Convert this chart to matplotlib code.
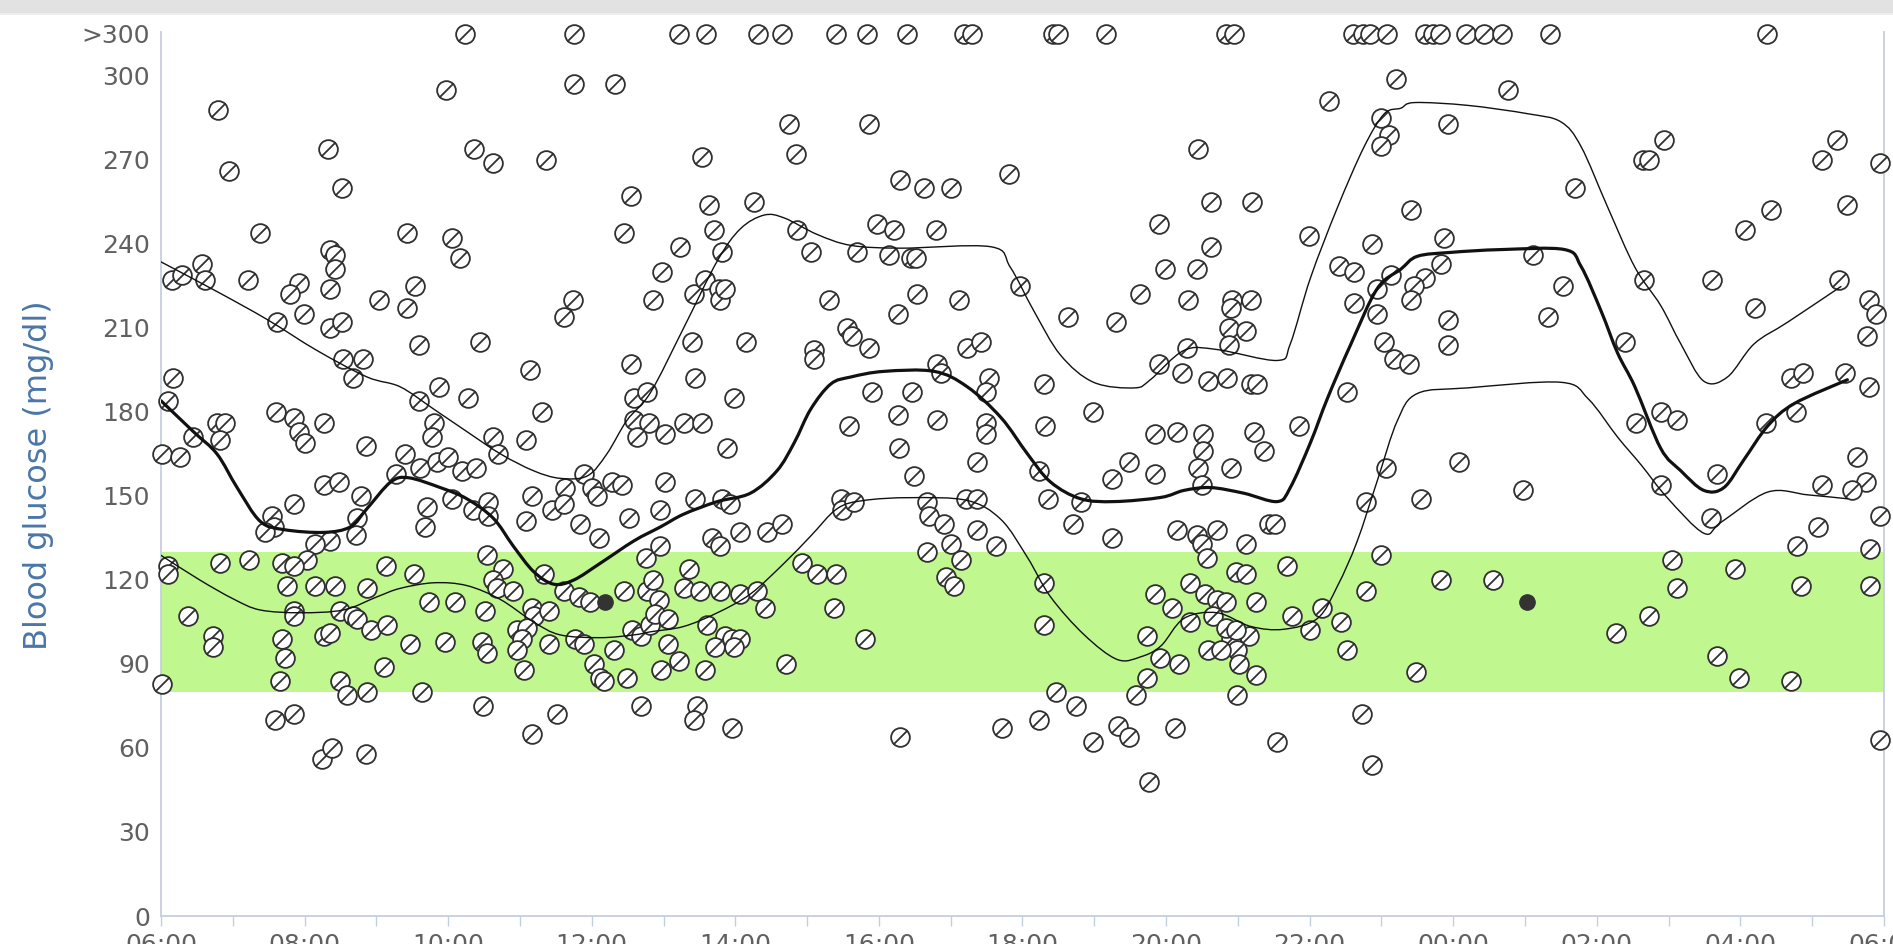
import numpy as np
import matplotlib
matplotlib.use("Agg")
import matplotlib.pyplot as plt
from matplotlib.path import Path
from matplotlib.patches import PathPatch, Rectangle

# ---- data: time is hours after 06:00, glucose in mg/dl ----
reading_hours = [
    0.80, 0.95, 1.38, 2.33, 2.52,
    0.15, 0.29, 0.57, 0.61, 1.21, 1.92, 1.79, 1.99,
    2.36, 2.43, 2.43, 2.36, 1.62, 2.36, 2.52, 2.54, 2.82, 2.68, 3.03,
    0.17, 0.10, 0.45, 0.78, 0.89, 0.82, 0.01, 0.27,
    1.60, 1.85, 1.92, 2.00, 2.27, 2.86, 3.27, 2.27, 2.48, 1.85, 2.78,
    1.54, 1.57, 1.45, 2.73, 2.71, 2.36, 2.15, 2.03,
    0.10, 0.10, 0.82, 1.22, 1.68, 1.85, 1.75, 2.15, 2.43, 2.87, 3.13,
    1.85, 1.85, 2.50, 2.68, 2.73, 2.92, 3.15, 0.38, 0.73, 0.73, 2.27, 2.36,
    1.68, 1.73, 1.66, 3.10, 0.01, 2.50, 2.59, 2.87, 1.59, 1.85, 2.24, 2.38, 2.85,
    3.97, 5.75, 6.33, 4.36, 4.63, 5.36, 6.54, 6.45, 3.42,
    4.05, 4.17, 3.54, 3.42, 5.74, 5.61, 3.59, 4.45, 5.14, 6.54,
    3.87, 3.59, 4.28, 5.31, 6.59, 6.77, 6.59, 6.80, 6.63,
    3.80, 3.77, 4.63, 4.70, 5.09, 3.40, 3.61, 3.84, 4.00, 4.19, 4.39,
    5.89, 6.00, 6.08, 6.28, 6.42, 5.63, 5.45, 5.61,
    3.70, 3.68, 4.05, 4.35, 4.56, 4.56, 5.09, 5.17, 5.84, 6.10, 6.52,
    4.54, 6.75, 4.77, 4.63, 4.68, 5.33, 3.52, 4.91,
    5.61, 5.82, 5.98, 6.45, 6.77, 3.73, 4.10, 4.52, 5.17, 5.19, 5.40,
    4.96, 5.10, 5.03, 4.96, 5.40, 5.77, 5.89, 6.56, 6.69,
    3.47, 3.96, 4.47, 4.54, 6.31, 5.05, 6.03, 6.12, 6.17, 6.49,
    3.63, 4.49, 5.52, 5.17, 6.68,
    8.75, 8.84, 9.86, 7.54, 10.30, 7.63, 7.70, 7.81, 8.26,
    8.86, 9.05, 9.70, 9.98, 10.21, 10.14, 7.23, 6.98, 6.86,
    7.42, 7.58, 7.77, 7.79, 7.85, 9.30, 9.56, 9.63, 9.86, 10.26,
    7.40, 8.15, 9.09, 9.10, 7.44, 7.98, 9.91,
    7.02, 7.28, 7.54, 9.58, 10.26, 10.28, 7.89,
    7.02, 6.95, 7.44, 7.81, 7.93, 9.47, 9.49, 9.65,
    6.95, 7.68, 7.79, 8.06, 8.44, 8.65, 7.35, 8.93, 9.14, 9.40,
    6.86, 6.93, 6.81, 6.88, 7.06, 7.06, 6.96, 7.21,
    7.28, 7.51, 7.79, 8.07, 8.30, 8.42, 7.61, 7.86, 7.95, 8.07, 7.72, 7.98,
    7.58, 8.70, 9.37, 9.81, 7.47, 7.42, 7.95, 10.30,
    10.63, 11.00, 11.81, 10.79, 10.44, 10.51, 10.53, 11.11, 11.97, 12.63, 13.30, 13.63,
    11.23, 11.42, 10.81, 10.86, 11.53, 11.49, 10.46, 10.81, 11.49, 11.49, 12.30, 12.32, 12.98,
    11.37, 10.49, 12.23, 13.49, 13.25, 12.35, 12.81, 12.70, 13.25,
    10.67, 10.70, 10.90, 11.00, 11.14, 11.21, 11.37, 11.37, 11.63, 10.67,
    10.93, 11.04, 12.30, 12.30, 13.74, 13.74, 13.58,
    12.46, 12.74, 12.23, 11.72, 12.98, 13.33, 13.49, 13.76,
    17.20, 16.27, 17.00, 17.11, 17.00, 14.45, 14.62, 15.20, 13.90, 14.62, 15.99,
    13.99, 14.43, 16.87, 16.41, 16.62, 14.31, 14.92, 15.18, 14.90, 14.87, 15.11, 14.87,
    16.62, 16.94, 17.13, 16.94, 17.04, 17.18, 14.29, 13.90, 14.22,
    14.59, 14.85, 15.18, 15.27, 16.52, 13.85, 14.15, 14.52, 14.52, 14.45, 14.50,
    15.22, 15.36, 14.90, 15.85, 13.85, 17.06, 16.78,
    15.43, 15.52, 14.15, 14.43, 14.50, 14.57, 14.71, 15.11, 14.97, 15.11, 15.69, 16.99,
    13.85, 14.34, 14.08, 14.54, 14.71, 14.83, 14.66, 14.34, 15.25,
    15.15, 14.90, 14.99, 15.01, 15.25, 14.83, 14.97, 14.59, 14.76, 13.92, 14.18,
    15.76, 16.01, 16.17, 16.43, 16.52, 16.78,
    14.99, 14.13, 15.55, 16.73, 16.87,
    18.76, 17.92, 19.69, 20.64, 20.72, 17.41, 17.87, 19.11,
    17.83, 17.60, 17.46, 17.41, 19.53, 19.32, 17.92, 17.92, 17.39, 20.39, 20.55,
    18.08, 17.55, 18.97, 17.83, 18.55, 20.27, 20.73, 17.48,
    20.94, 20.66, 21.61, 23.13, 23.34, 23.94, 22.42, 22.07, 22.21, 23.49, 23.37,
    23.79, 23.89, 23.77, 23.79, 22.70, 22.87, 23.45, 20.89, 21.12, 22.35, 22.77,
    21.67, 20.89, 23.63, 23.75, 23.56, 23.14, 23.95, 21.59, 23.08, 22.79, 23.80,
    21.05, 21.92, 21.12, 22.85, 23.80, 21.67, 21.98, 22.70, 23.94,
]
reading_values = [
    288, 266, 244, 274, 260,
    227, 229, 233, 227, 227, 226, 222, 215,
    238, 236, 231, 224, 212, 210, 212, 199, 199, 192, 220,
    192, 184, 171, 176, 176, 170, 165, 164,
    180, 178, 173, 169, 176, 168, 158, 154, 155, 147, 150,
    143, 139, 137, 142, 136, 134, 133, 127,
    125, 122, 126, 127, 126, 125, 118, 118, 118, 117, 125,
    109, 107, 109, 107, 106, 102, 104, 107, 100, 96, 100, 101,
    99, 92, 84, 89, 83, 84, 79, 80, 70, 72, 56, 60, 58,
    295, 297, 297, 274, 269, 270, 257, 244, 244,
    242, 235, 225, 217, 220, 214, 204, 205, 195, 197,
    189, 184, 185, 180, 185, 187, 177, 176, 171,
    176, 171, 171, 165, 170, 165, 160, 162, 164, 159, 160,
    158, 153, 150, 155, 154, 153, 145, 147,
    146, 139, 149, 145, 148, 143, 141, 150, 140, 135, 142,
    129, 128, 124, 120, 117, 122, 122, 116,
    116, 114, 112, 116, 116, 112, 112, 109, 110, 107, 109,
    102, 103, 99, 95, 97, 99, 97, 102, 100,
    97, 98, 98, 94, 95, 88, 90, 85, 84, 85,
    80, 75, 72, 65, 75,
    283, 272, 283, 271, 263, 254, 245, 237, 255,
    245, 237, 237, 247, 245, 236, 239, 230, 220,
    222, 227, 224, 220, 224, 220, 210, 207, 203, 215,
    205, 205, 202, 199, 192, 185, 187,
    172, 176, 176, 175, 179, 167, 167,
    155, 145, 149, 149, 147, 149, 145, 148,
    132, 135, 132, 137, 137, 140, 124, 126, 122, 122,
    120, 113, 104, 108, 106, 97, 88, 91,
    117, 116, 116, 115, 116, 110, 104, 100, 99, 99, 96, 96,
    88, 90, 110, 99, 75, 70, 67, 64,
    260, 260, 265, 245, 235, 235, 222, 220, 225, 214, 212, 222,
    203, 205, 197, 194, 192, 187, 187, 177, 176, 172, 190, 175, 180,
    162, 157, 159, 162, 156, 149, 148, 140, 135,
    148, 143, 140, 133, 127, 149, 149, 138, 132, 130,
    121, 118, 119, 104, 100, 85, 79,
    80, 75, 70, 67, 62, 68, 64, 48,
    299, 291, 285, 279, 275, 274, 255, 255, 247, 239, 243,
    231, 231, 240, 232, 230, 220, 220, 220, 217, 210, 209, 204,
    219, 224, 229, 215, 205, 199, 203, 197, 194,
    191, 192, 190, 190, 187, 172, 173, 172, 166, 160, 154,
    173, 166, 160, 175, 158, 160, 148,
    140, 140, 138, 136, 133, 128, 138, 133, 123, 122, 125, 129,
    115, 119, 110, 115, 113, 112, 107, 105, 112,
    100, 99, 95, 90, 86, 103, 102, 95, 95, 92, 90,
    107, 102, 110, 105, 95, 116,
    79, 67, 62, 72, 54,
    295, 283, 260, 270, 270, 252, 242, 236,
    233, 228, 225, 220, 225, 214, 213, 204, 197, 205, 176,
    162, 149, 152, 120, 120, 101, 107, 87,
    277, 227, 227, 270, 277, 269, 252, 245, 217, 254, 227,
    220, 215, 207, 189, 192, 194, 194, 180, 177, 176, 180,
    158, 154, 164, 155, 152, 154, 143, 142, 139, 132, 131,
    127, 124, 117, 118, 118, 93, 85, 84, 63,
]

# readings above the meter range, drawn on the ">300" row
over_300_hours = [4.24, 5.75, 7.21, 7.59, 8.32, 8.65, 9.40, 9.84, 10.39,
                  11.18, 11.30, 12.43, 12.49, 13.16, 14.84, 14.94, 16.60,
                  16.74, 16.84, 17.08, 17.60, 17.72, 17.82, 18.18, 18.43,
                  18.68, 19.35, 22.37]

# meal markers
meal_hours = [6.19, 19.03]
meal_values = [112, 112]

median_hours = [0.0, 0.45, 0.78, 1.06, 1.38, 1.71, 2.27, 2.64, 2.87, 3.20,
                3.45, 3.89, 4.26, 4.63, 4.91, 5.19, 5.47, 5.75, 6.12, 6.59,
                6.96, 7.28, 7.75, 8.21, 8.58, 8.82, 9.05, 9.33, 9.61, 10.07,
                10.77, 11.23, 11.70, 12.07, 12.39, 12.81, 13.28, 13.93, 14.25,
                14.62, 15.08, 15.55, 15.73, 16.01, 16.25, 16.57, 16.94, 17.27,
                17.50, 17.97, 18.67, 19.55, 19.78, 20.06, 20.29, 20.53, 20.89,
                21.17, 21.49, 21.77, 22.05, 22.38, 22.75, 23.49]
median_values = [184, 173, 165, 153, 141, 138, 137, 139, 145.5, 155,
                 156.5, 153, 149, 142, 132, 123, 118.5, 120, 126, 134,
                 139, 143.5, 148, 151, 159, 169, 181, 190, 192.5, 194.5,
                 194.5, 189, 178, 165, 155, 149, 148, 149.5, 152,
                 153, 151, 148, 153, 169, 185, 204, 224, 231,
                 235.6, 237, 238, 238, 232, 216, 201, 189, 167,
                 159, 152, 153, 163, 175, 183, 191.5]

upper_hours = [0.0, 0.78, 1.48, 2.17, 2.87, 3.33, 3.80, 4.26, 4.73, 5.19,
               5.56, 5.94, 6.21, 6.49, 6.82, 7.28, 7.75, 8.07, 8.40, 8.68,
               9.14, 9.61, 10.30, 11.56, 11.83, 12.16, 12.53, 12.99, 13.56,
               13.78, 14.25, 14.71, 15.55, 15.73, 16.01, 16.39, 16.76, 17.04,
               17.27, 17.46, 18.20, 19.04, 19.50, 19.78, 20.15, 20.53, 20.89,
               21.17, 21.49, 21.82, 22.19, 22.66, 23.40]
upper_values = [233.6, 223, 213, 202, 192.5, 189, 181, 173, 165, 159,
                156.3, 157.2, 165, 177, 187, 210, 234, 245.4, 250.3, 249.3,
                243.4, 239.5, 238.5, 239, 231.7, 216, 200.3, 190.6, 188.6,
                191.5, 202, 202.3, 198.4, 204.3, 227.8, 253.2, 274.8, 286.5,
                288.5, 290.5, 289.5, 286.5, 283.6, 274.8, 253.2, 231.7, 218,
                204.3, 191, 192.5, 204.3, 212.1, 224.8]

lower_hours = [0.0, 0.54, 1.01, 1.38, 1.94, 2.54, 3.01, 3.33, 3.80, 4.26,
               4.73, 5.19, 5.56, 6.12, 6.59, 6.82, 7.28, 7.75, 8.21, 8.68,
               9.05, 9.42, 9.79, 10.44, 11.23, 11.70, 12.07, 12.39, 12.86,
               13.32, 13.65, 13.93, 14.25, 14.71, 15.18, 15.64, 16.11, 16.39,
               16.66, 16.94, 17.22, 17.50, 18.20, 19.50, 19.88, 20.29, 20.62,
               20.98, 21.49, 21.73, 22.38, 22.94, 23.49]
lower_values = [128.8, 120, 113.2, 109.3, 108.3, 109.3, 114, 117, 119, 118,
                113, 105, 100.4, 99.4, 100.4, 101.5, 103.4, 108.3, 115, 126,
                135.7, 145.5, 148.4, 149.4, 148.4, 141.6, 128, 114, 100.4,
                91.6, 92.6, 96.5, 106.3, 108.3, 103.4, 102.4, 106.3, 118,
                133.7, 155.3, 176.8, 186.6, 188.6, 190.6, 184.7, 171, 161,
                149.4, 136.7, 140.6, 151.4, 150.4, 149]

x_tick_labels = ["06:00", "08:00", "10:00", "12:00", "14:00", "16:00", "18:00",
                 "20:00", "22:00", "00:00", "02:00", "04:00", "06:00"]
y_tick_values = [0, 30, 60, 90, 120, 150, 180, 210, 240, 270, 300]
over_300_label = ">300"
over_300_row = 315
target_low, target_high = 80, 130

# ---- figure ----
W, H, DPI = 1893, 944, 100
fig = plt.figure(figsize=(W / DPI, H / DPI), dpi=DPI)
left, right, bottom, top = 161, 1884, 916, 32
ax = fig.add_axes([left / W, (H - bottom) / H, (right - left) / W, (bottom - top) / H])
ax.set_xlim(0, 24)
ax.set_ylim(0, 315.7)

spine_col = "#c5cfdc"
label_col = "#606060"

# target range band
ax.axhspan(target_low, target_high, color="#c0f78f", lw=0, zorder=0)


def smooth_path(xs, ys):
    """Catmull-Rom spline through the points, rendered as cubic Bezier segments."""
    p = np.column_stack([xs, ys]).astype(float)
    ext = np.vstack([p[0], p, p[-1]])
    verts = [p[0]]
    codes = [Path.MOVETO]
    for i in range(1, len(ext) - 2):
        p0, p1, p2, p3 = ext[i - 1], ext[i], ext[i + 1], ext[i + 2]
        c1 = p1 + (p2 - p0) / 6.0
        c2 = p2 - (p3 - p1) / 6.0
        verts += [c1, c2, p2]
        codes += [Path.CURVE4] * 3
    return Path(np.array(verts), codes)


# slashed-circle marker
circ = Path.unit_circle()
slash = np.array([[-0.72, -0.72], [0.72, 0.72]])
slashed = Path(np.vstack([circ.vertices, slash]),
               list(circ.codes) + [Path.MOVETO, Path.LINETO])

ax.scatter(reading_hours, reading_values, s=13.5 ** 2, marker=slashed,
           facecolor="white", edgecolor="#303030", linewidths=1.3,
           zorder=3, clip_on=False)
ax.scatter(over_300_hours, [over_300_row] * len(over_300_hours), s=13.5 ** 2,
           marker=slashed, facecolor="white", edgecolor="#303030",
           linewidths=1.3, zorder=3, clip_on=False)

for xs, ys, lw in [(upper_hours, upper_values, 1.0),
                   (lower_hours, lower_values, 1.0),
                   (median_hours, median_values, 2.3)]:
    ax.add_patch(PathPatch(smooth_path(xs, ys), fill=False, edgecolor="#111111",
                           lw=lw, zorder=4, capstyle="round", joinstyle="round"))

ax.scatter(meal_hours, meal_values, s=11 ** 2, color="#333333", zorder=5)

# axes styling
ax.spines["top"].set_visible(False)
for side in ["left", "bottom", "right"]:
    ax.spines[side].set_color(spine_col)
    ax.spines[side].set_linewidth(1.3)

ax.set_xticks(np.arange(0, 25, 1))
ax.set_xticklabels([x_tick_labels[i // 2] if i % 2 == 0 else "" for i in range(25)])
ax.tick_params(axis="x", length=7.2, width=1.0, color=spine_col, pad=5,
               labelsize=18, labelcolor=label_col)

ax.set_yticks(y_tick_values + [over_300_row])
ax.set_yticklabels([str(v) for v in y_tick_values] + [over_300_label])
ax.tick_params(axis="y", length=0, pad=8, labelsize=18, labelcolor=label_col)

fig.text(39 / W, 1 - 475 / H, "Blood glucose (mg/dl)", rotation=90,
         ha="center", va="center", fontsize=23, color="#4a76a8")

# window frame strip along the top edge
fig.patches.append(Rectangle((0, 1 - 13 / H), 1, 13 / H, transform=fig.transFigure,
                             facecolor="#e2e2e2", edgecolor="none", zorder=10))
fig.patches.append(Rectangle((0, 1 - 15 / H), 1, 2 / H, transform=fig.transFigure,
                             facecolor="#eeeeee", edgecolor="none", zorder=10))

fig.savefig("out.png", dpi=DPI, facecolor="white")
